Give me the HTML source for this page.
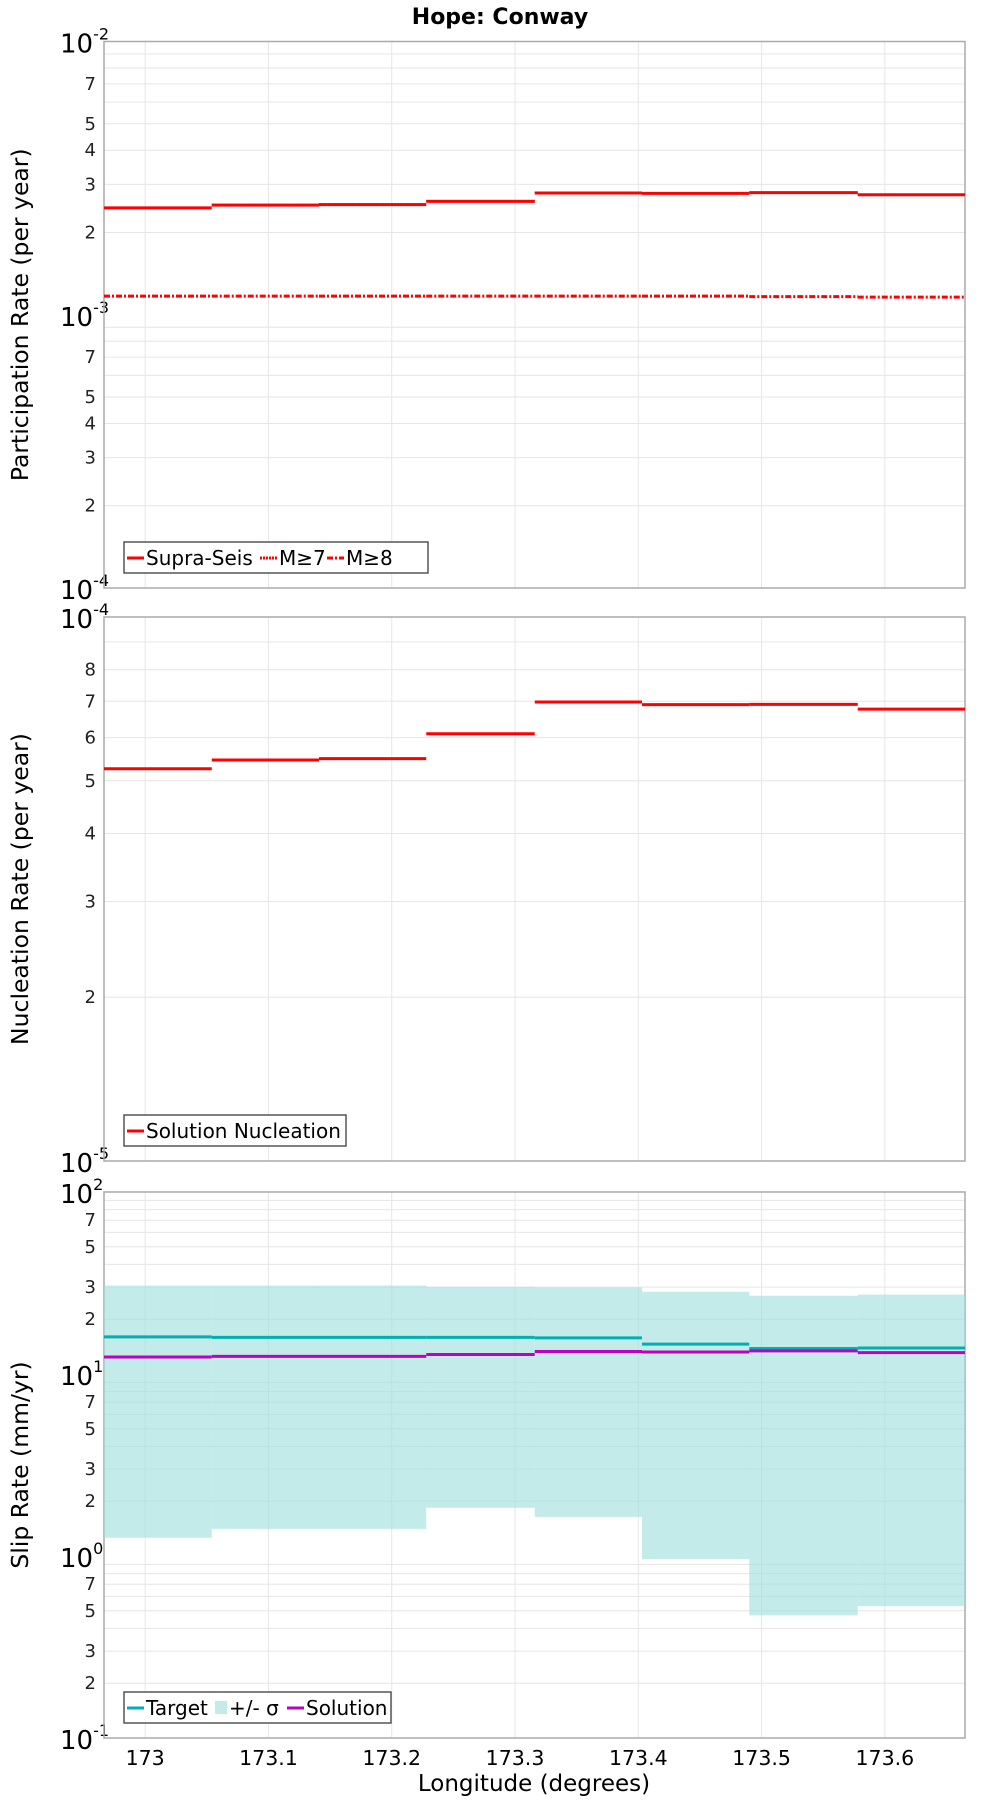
<!DOCTYPE html>
<html><head><meta charset="utf-8"><style>
html,body{margin:0;padding:0;background:#fff;}
svg{display:block;font-family:"DejaVu Sans","Liberation Sans",sans-serif;}
</style></head><body>
<svg id="chart" width="1000" height="1800" viewBox="0 0 1000 1800">
<text x="500" y="24" text-anchor="middle" font-size="22" font-weight="bold">Hope: Conway</text>
<g id="layer"></g>
<text x="534" y="1791" text-anchor="middle" font-size="23">Longitude (degrees)</text>
</svg>
<script>
// shared bins
const binEdges = [172.9666, 173.054, 173.141, 173.228, 173.316, 173.403, 173.490, 173.578, 173.665];
const xTicks = [173, 173.1, 173.2, 173.3, 173.4, 173.5, 173.6];
const xTickLabels = ["173","173.1","173.2","173.3","173.4","173.5","173.6"];
// panel 1
const supraSeis = [2.46e-3, 2.52e-3, 2.53e-3, 2.60e-3, 2.79e-3, 2.78e-3, 2.80e-3, 2.75e-3];
const m7 = [2.47e-3, 2.53e-3, 2.54e-3, 2.61e-3, 2.80e-3, 2.79e-3, 2.80e-3, 2.75e-3];
const m8 = [1.17e-3, 1.17e-3, 1.17e-3, 1.17e-3, 1.17e-3, 1.17e-3, 1.165e-3, 1.16e-3];
// panel 2
const nucleation = [5.26e-5, 5.46e-5, 5.49e-5, 6.10e-5, 6.98e-5, 6.90e-5, 6.91e-5, 6.77e-5];
// panel 3
const targetSlip = [16.0, 15.9, 15.9, 15.9, 15.8, 14.6, 13.8, 13.9];
const solutionSlip = [12.4, 12.5, 12.5, 12.8, 13.3, 13.2, 13.4, 13.1];
const sigmaUpper = [30.6, 30.6, 30.6, 30.1, 29.9, 28.3, 26.9, 27.3];
const sigmaLower = [1.26, 1.41, 1.41, 1.84, 1.64, 0.96, 0.472, 0.53];

const NS = "http://www.w3.org/2000/svg";
const layer = document.getElementById('layer');
const X0 = 104, X1 = 965;
function xScale(v){ return X0 + (v - binEdges[0]) / (binEdges[binEdges.length-1] - binEdges[0]) * (X1 - X0); }
function mk(tag, attrs, parent){
  const e = document.createElementNS(NS, tag);
  for (const k in attrs) e.setAttribute(k, attrs[k]);
  (parent || layer).appendChild(e);
  return e;
}
function makeY(top, bot, lo, hi){
  return v => bot - (Math.log10(v) - lo) / (hi - lo) * (bot - top);
}
function panel(name, top, bot, lo, hi, minorLabels, title){
  const g = mk('g', {});
  
  
  const y = makeY(top, bot, lo, hi);
  for (let d = lo; d < hi; d++) {
    for (let m = 2; m <= 9; m++) {
      const yy = y(m * Math.pow(10, d));
      const l = mk('line', {x1:X0, x2:X1, y1:yy, y2:yy, stroke:'#e6e6e6', 'stroke-width':1}, g);
      
      
      if (minorLabels.indexOf(m) >= 0) {
        const t = mk('text', {x:96, y:yy+6, 'text-anchor':'end', 'font-size':18, fill:'#222'}, g);
        t.textContent = String(m);
        
        
      }
    }
  }
  for (let d = lo; d <= hi; d++) {
    const yy = y(Math.pow(10, d));
    const t = mk('text', {x:60, y:yy+11, 'font-size':26, fill:'#000'}, g);
    t.textContent = '10';
    
    
    const s = mk('tspan', {dy:-13, 'font-size':16}, t);
    s.textContent = String(d);
  }
  xTicks.forEach(v => {
    const xx = xScale(v);
    const l = mk('line', {x1:xx, x2:xx, y1:top, y2:bot, stroke:'#e6e6e6', 'stroke-width':1}, g);
    
    
  });
  const r = mk('rect', {x:X0, y:top, width:X1-X0, height:bot-top, fill:'none', stroke:'#aaa', 'stroke-width':1.5}, g);
  
  
  const tt = mk('text', {x:0, y:0, 'text-anchor':'middle', 'font-size':23.5, transform:`translate(28,${(top+bot)/2}) rotate(-90)`}, g);
  tt.textContent = title;
  
  
  return {g, y};
}
function steps(g, y, vals, color, w, dash, name){
  vals.forEach((v, i) => {
    const l = mk('line', {x1:xScale(binEdges[i]), x2:xScale(binEdges[i+1]), y1:y(v), y2:y(v), stroke:color, 'stroke-width':w}, g);
    if (dash) l.setAttribute('stroke-dasharray', dash);
    
    
  });
}
function legend(g, x, y, w, items){
  const box = mk('g', {}, g);
  
  
  const r = mk('rect', {x:x, y:y, width:w, height:31, fill:'#fff', stroke:'#555', 'stroke-width':1.5}, box);
  
  
  let cx = x + 3;
  items.forEach(it => {
    const e = mk('g', {}, box);
    
    
    if (it.rect) mk('rect', {x:cx+1, y:y+9, width:12, height:13, fill:it.color}, e);
    else {
      const l = mk('line', {x1:cx, x2:cx+17, y1:y+16, y2:y+16, stroke:it.color, 'stroke-width':3}, e);
      if (it.dash) l.setAttribute('stroke-dasharray', it.dash);
    }
    cx += it.rect ? 15 : 19;
    const t = mk('text', {x:cx, y:y+23, 'font-size':20}, e);
    t.textContent = it.label;
    cx += it.tw + 4;
  });
}
(function(){
  const p = panel('participation-panel', 41.5, 588, -4, -2, [2,3,4,5,7], 'Participation Rate (per year)');
  steps(p.g, p.y, supraSeis, '#ff0000', 3, null, 'supra-seis-step');
  steps(p.g, p.y, m7, '#ff0000', 2, '2,1', 'm7-step');
  steps(p.g, p.y, m8, '#ff0000', 3, '6,2,2,2', 'm8-step');
  legend(p.g, 124, 542, 304, [
    {label:'Supra-Seis', color:'#f00', tw:110},
    {label:'M≥7', color:'#f00', dash:'2,1', tw:44},
    {label:'M≥8', color:'#f00', dash:'6,2,2,2', tw:44}]);
})();
(function(){
  const p = panel('nucleation-panel', 617, 1161, -5, -4, [2,3,4,5,6,7,8], 'Nucleation Rate (per year)');
  steps(p.g, p.y, nucleation, '#ff0000', 3, null, 'nucleation-step');
  legend(p.g, 124, 1115, 222, [{label:'Solution Nucleation', color:'#f00', tw:195}]);
})();
(function(){
  const p = panel('slip-rate-panel', 1192, 1738, -1, 2, [2,3,5,7], 'Slip Rate (mm/yr)');
  sigmaUpper.forEach((u, i) => {
    const r = mk('rect', {x:xScale(binEdges[i]), y:p.y(u), width:xScale(binEdges[i+1])-xScale(binEdges[i]), height:p.y(sigmaLower[i])-p.y(u), fill:'#9edfdc', 'fill-opacity':0.62}, p.g);
    
    
  });
  steps(p.g, p.y, targetSlip, '#00b0b0', 3, null, 'target-step');
  steps(p.g, p.y, solutionSlip, '#c000c0', 3, null, 'solution-step');
  legend(p.g, 124, 1692, 267, [
    {label:'Target', color:'#00b0b0', tw:64},
    {label:'+/- σ', color:'#c2ecea', rect:true, tw:54},
    {label:'Solution', color:'#c000c0', tw:86}]);
  xTicks.forEach((v, i) => {
    const t = mk('text', {x:xScale(v), y:1765, 'text-anchor':'middle', 'font-size':20.5}, layer);
    t.textContent = xTickLabels[i];
    
    
  });
})();
</script>
</body></html>
